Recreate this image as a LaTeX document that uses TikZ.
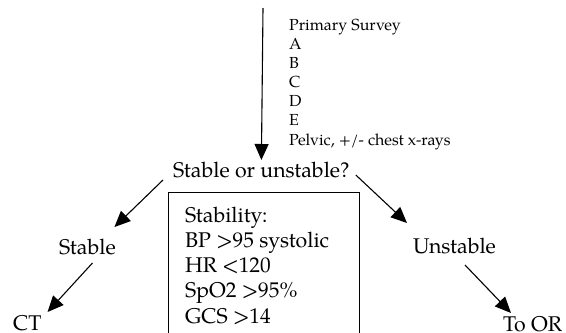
\documentclass[tikz,border=0pt]{standalone}
\usepackage{fontspec}
\setmainfont{texgyrepagella}[Extension=.otf, UprightFont=*-regular, BoldFont=*-bold, ItalicFont=*-italic, BoldItalicFont=*-bolditalic]
\usetikzlibrary{arrows.meta}

\tikzset{
  arr/.style={line width=1.1bp, -{Triangle[length=16bp,width=14bp]}},
  big/.style={inner sep=0pt, anchor=base west, font=\fontsize{21.3bp}{25bp}\selectfont},
  small/.style={inner sep=0pt, anchor=base west, font=\fontsize{16bp}{19bp}\selectfont},
  critbox/.style={draw, line width=1.2bp, inner sep=0pt, anchor=north west,
                  minimum width=191bp, minimum height=160bp}
}

\begin{document}
\begin{tikzpicture}[x=1bp, y=-1bp]
  \useasboundingbox (0,0) rectangle (566,332);

  % primary survey checklist beside the entry arrow
  \foreach \t [count=\i from 0] in {Primary Survey, A, B, C, D, E, {Pelvic, +/- chest x-rays}}
    \node[small] (ps\i) at (289, 30.7+19.05*\i) {\t};

  % decision and outcomes
  \node[big] (q)        at (173,177) {Stable or unstable?};
  \node[big] (stable)   at (59,254)  {Stable};
  \node[big] (unstable) at (413,253) {Unstable};
  \node[big] (ct)       at (13,330)  {CT};
  \node[big] (toor)     at (503,331) {To OR};

  % stability criteria box (runs off the bottom edge)
  \node[critbox] (crit) at (168,192) {};
  \foreach \t [count=\i from 0] in {Stability:, BP >95 systolic, HR <120, SpO2 >95\%, GCS >14}
    \node[big] (c\i) at (185, 222+25.25*\i) {\t};

  % entry arrow
  \coordinate (entry) at (263,8);
  \draw[arr] (entry) -- ([shift={(0,-17)}]q.base);

  % branches
  \draw[arr] ([shift={(-10,3)}]q.base west) -- ([shift={(27,-27)}]stable.base);
  \draw[arr] ([shift={(6,-2)}]q.base east) -- ([shift={(-6,-30)}]unstable.base west);
  \draw[arr] ([shift={(5,9)}]stable.base) -- ([shift={(6,-18)}]ct.base east);
  \draw[arr] ([shift={(52,12)}]unstable.base west) -- ([shift={(8,-18)}]toor.base west);
\end{tikzpicture}
\end{document}
